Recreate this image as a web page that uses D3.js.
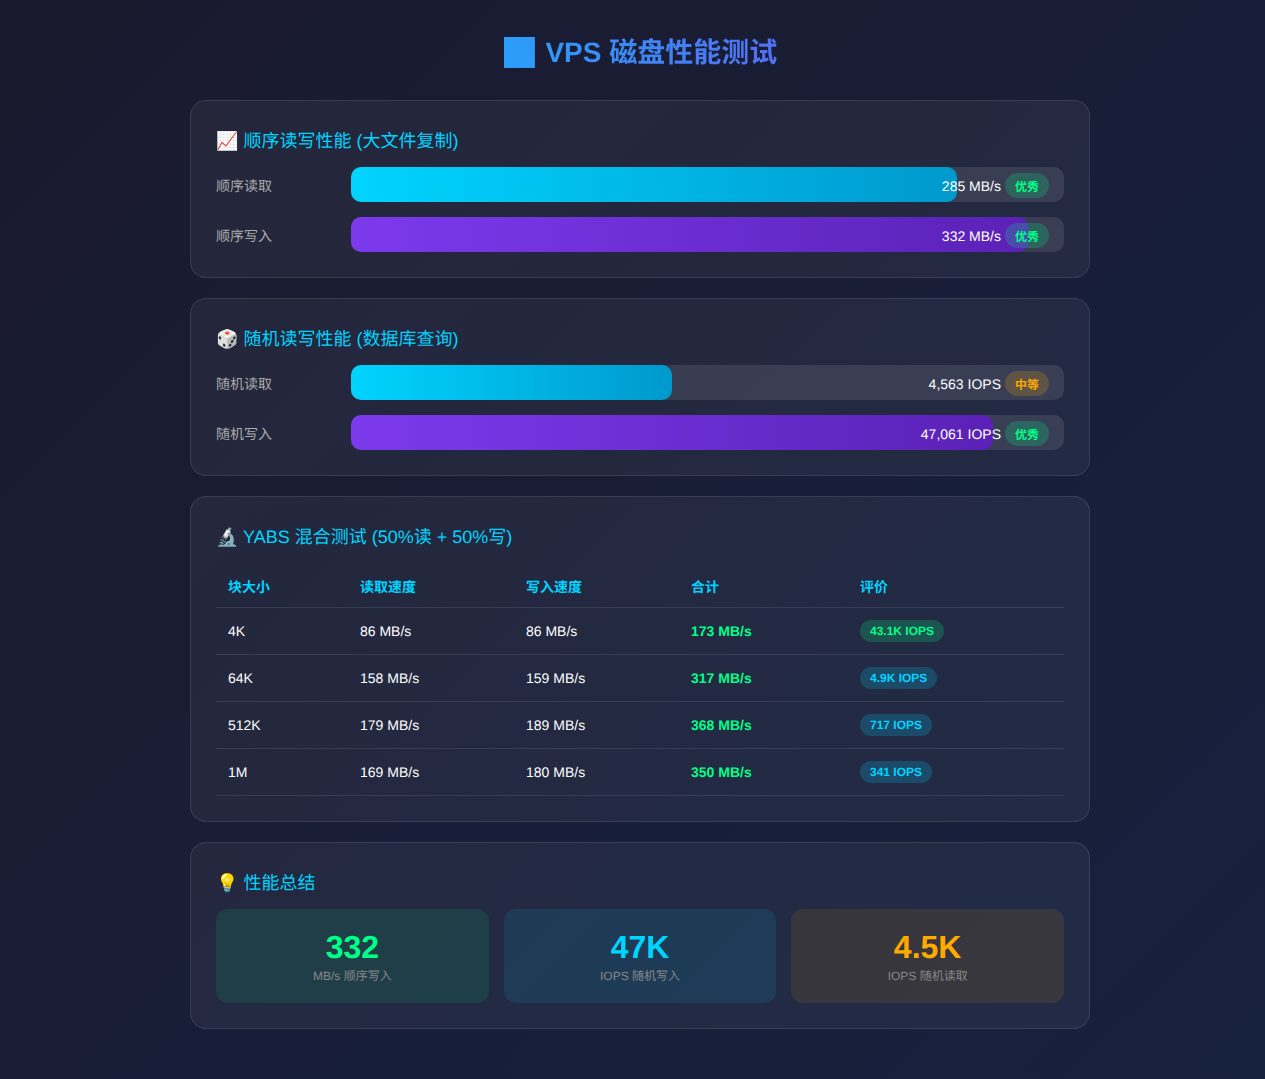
<!DOCTYPE html>
<html lang="zh">
<head>
<meta charset="utf-8">
<title>VPS 磁盘性能测试</title>
<script src="https://cdn.jsdelivr.net/npm/d3@7"></script>
<style>
* { margin: 0; padding: 0; box-sizing: border-box; }
html, body { width: 1265px; height: 1079px; overflow: hidden; }
body {
  background: linear-gradient(135deg, #1a1a2e 0%, #16213e 100%);
  font-family: "Liberation Sans", "Noto Sans CJK SC", sans-serif;
  text-rendering: geometricPrecision;
  color: #fff;
  position: relative;
}
#page { position: absolute; left: 190px; top: 0; width: 900px; }
h1 {
  height: 100px; padding-top: 34px; text-align: center;
  font-size: 28px; line-height: 38px; font-weight: 700;
  background: linear-gradient(90deg, #00d4ff, #7c3aed);
  -webkit-background-clip: text; background-clip: text;
  -webkit-text-fill-color: transparent; color: transparent;
}
.card {
  background: rgba(255,255,255,0.05);
  border: 1px solid rgba(255,255,255,0.1);
  border-radius: 16px; padding: 25px; margin-bottom: 20px;
}
h2 { position: relative; top: 2px; font-size: 18px; font-weight: 400; color: #00d4ff; line-height: 26px; margin-bottom: 15px; }
.row { display: flex; align-items: center; height: 35px; margin-bottom: 15px; }
.row:last-child { margin-bottom: 0; }
.label { width: 135px; font-size: 14px; color: #aaa; padding-top: 3px; }
.track { position: relative; width: 713px; height: 35px; background: rgba(255,255,255,0.1); border-radius: 10px; }
.fill { position: absolute; left: 0; top: 0; height: 35px; border-radius: 10px; }
.fill.read { background: linear-gradient(90deg, #00d4ff, #0099cc); }
.fill.write { background: linear-gradient(90deg, #7c3aed, #5b21b6); }
.value { position: absolute; right: 63px; top: 9px; font-size: 14px; line-height: 20px; white-space: nowrap; }
.badge { position: absolute; right: 15px; top: 6px; height: 25px; width: 44px; border-radius: 12.5px;
  font-size: 12px; font-weight: 700; line-height: 28px; text-align: center; }
.good { background: rgba(0,255,136,0.2); color: #00ff88; }
.mid { background: rgba(255,170,0,0.2); color: #ffaa00; }
.tablewrap { padding-top: 3px; }
table { width: 848px; border-collapse: collapse; table-layout: fixed; }
th, td { text-align: left; padding: 0 12px; font-size: 14px; border-bottom: 1px solid rgba(255,255,255,0.1); }
th { height: 41px; padding-top: 2px; color: #00d4ff; font-weight: 700; }
td { height: 47px; }
td.total { color: #00ff88; font-weight: 700; }
.pill { display: inline-block; height: 22px; line-height: 22px; padding: 0 10px; border-radius: 11px; font-size: 12px; font-weight: 700; }
.pill.hi { background: rgba(0,255,136,0.2); color: #00ff88; }
.pill.lo { background: rgba(0,212,255,0.2); color: #00d4ff; }
.tiles { display: grid; grid-template-columns: repeat(3, 1fr); gap: 15px; }
.tile { height: 94px; border-radius: 12px; text-align: center; padding-top: 20px; }
.tile .num { font-size: 32px; font-weight: 700; line-height: 37px; }
.tile .cap { font-size: 12px; line-height: 17px; color: #888; margin-top: 2px; }
</style>
</head>
<body>
<div id="page"></div>
<script>
// bars
var seqLabels = ["顺序读取", "顺序写入"];
var seqValues = ["285 MB/s", "332 MB/s"];
var seqPercent = [85, 95];
var seqGrades = ["优秀", "优秀"];

var randLabels = ["随机读取", "随机写入"];
var randValues = ["4,563 IOPS", "47,061 IOPS"];
var randPercent = [45, 90];
var randGrades = ["中等", "优秀"];

// yabs table
var tableHeaders = ["块大小", "读取速度", "写入速度", "合计", "评价"];
var blockSizes = ["4K", "64K", "512K", "1M"];
var readSpeeds = [86, 158, 179, 169];
var writeSpeeds = [86, 159, 189, 180];
var totalSpeeds = [173, 317, 368, 350];
var iopsLabels = ["43.1K IOPS", "4.9K IOPS", "717 IOPS", "341 IOPS"];
var columnWidths = [132, 166, 165, 169, 216];

// summary
var summaryNumbers = ["332", "47K", "4.5K"];
var summaryCaptions = ["MB/s 顺序写入", "IOPS 随机写入", "IOPS 随机读取"];
var summaryColors = ["#00ff88", "#00d4ff", "#ffaa00"];
var summaryBacks = ["rgba(0,255,136,0.1)", "rgba(0,212,255,0.1)", "rgba(255,170,0,0.1)"];

var page = d3.select("#page");
var x = d3.scaleLinear().domain([0, 100]).range([0, 713]);

page.append("h1").text("📊 VPS 磁盘性能测试");

function barCard(title, labels, values, percent, grades) {
    var card = page.append("div").attr("class", "card");
    card.append("h2").text(title);

    var rows = card.selectAll(".row")
        .data(labels)
        .enter()
        .append("div")
            .attr("class", "row");

    rows.append("div").attr("class", "label").text(d => d);

    var track = rows.append("div").attr("class", "track");
    track.append("div")
        .attr("class", (d, i) => "fill " + (i == 0 ? "read" : "write"))
        .style("width", (d, i) => x(percent[i]) + "px");
    track.append("div")
        .attr("class", "value")
        .text((d, i) => values[i]);
    track.append("div")
        .attr("class", (d, i) => "badge " + (grades[i] == "优秀" ? "good" : "mid"))
        .text((d, i) => grades[i]);
}

barCard("📈 顺序读写性能 (大文件复制)", seqLabels, seqValues, seqPercent, seqGrades);
barCard("🎲 随机读写性能 (数据库查询)", randLabels, randValues, randPercent, randGrades);

// table card
var tableCard = page.append("div").attr("class", "card");
tableCard.append("h2").text("🔬 YABS 混合测试 (50%读 + 50%写)");
var table = tableCard.append("div").attr("class", "tablewrap").append("table");
table.append("colgroup").selectAll("col")
    .data(columnWidths)
    .enter()
    .append("col")
        .style("width", d => d + "px");
table.append("thead").append("tr").selectAll("th")
    .data(tableHeaders)
    .enter()
    .append("th")
        .text(d => d);

var tr = table.append("tbody").selectAll("tr")
    .data(blockSizes)
    .enter()
    .append("tr");
tr.append("td").text(d => d);
tr.append("td").text((d, i) => readSpeeds[i] + " MB/s");
tr.append("td").text((d, i) => writeSpeeds[i] + " MB/s");
tr.append("td").attr("class", "total").text((d, i) => totalSpeeds[i] + " MB/s");
tr.append("td").append("span")
    .attr("class", (d, i) => "pill " + (i == 0 ? "hi" : "lo"))
    .text((d, i) => iopsLabels[i]);

// summary card
var sumCard = page.append("div").attr("class", "card");
sumCard.append("h2").text("💡 性能总结");
var tile = sumCard.append("div").attr("class", "tiles").selectAll(".tile")
    .data(summaryNumbers)
    .enter()
    .append("div")
        .attr("class", "tile")
        .style("background", (d, i) => summaryBacks[i]);
tile.append("div").attr("class", "num")
    .style("color", (d, i) => summaryColors[i])
    .text(d => d);
tile.append("div").attr("class", "cap").text((d, i) => summaryCaptions[i]);
</script>
</body>
</html>
